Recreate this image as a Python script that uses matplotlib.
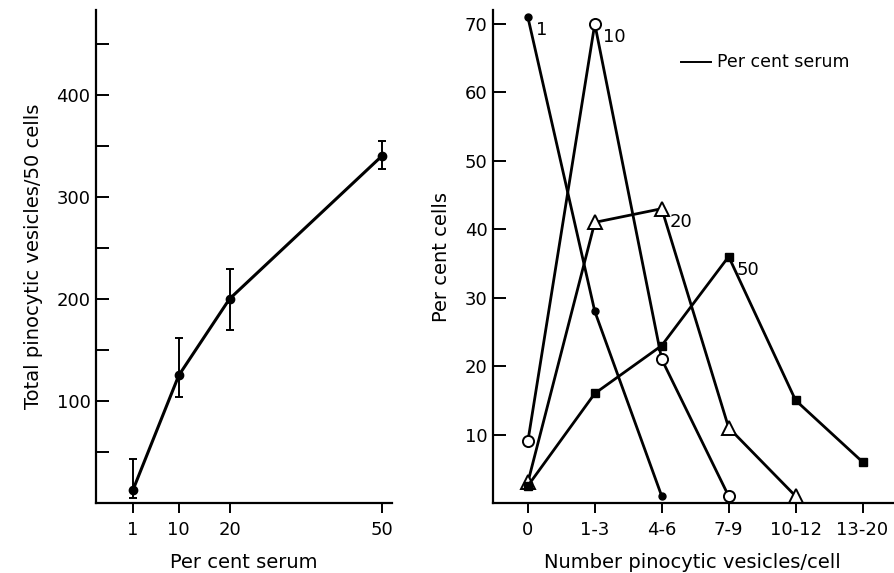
import numpy as np
import matplotlib
matplotlib.use("Agg")
import matplotlib.pyplot as plt

# left panel: total vesicles vs serum
serum = [1, 10, 20, 50]
total_vesicles = [13, 125, 200, 340]
err_low = [5, 104, 170, 327]
err_high = [43, 162, 229, 355]

# right panel: distribution per serum level
bins = ["0", "1-3", "4-6", "7-9", "10-12", "13-20"]
pct_1 = [71, 28, 1]
pct_10 = [9, 70, 21, 1]
pct_20 = [3, 41, 43, 11, 1]
pct_50 = [2.5, 16, 23, 36, 15, 6]
series_labels = ["1", "10", "20", "50"]

plt.rcParams["font.family"] = "DejaVu Sans"
plt.rcParams["font.size"] = 13


def style_axes(ax):
    for side in ("top", "right"):
        ax.spines[side].set_visible(False)
    for side in ("left", "bottom"):
        ax.spines[side].set_linewidth(1.6)
    ax.tick_params(axis="y", direction="in", length=9, width=1.4, pad=4)
    ax.tick_params(axis="x", direction="out", length=7, width=1.4, pad=6)


def main():
    fig = plt.figure(figsize=(8.94, 5.73), dpi=100)

    ax1 = fig.add_axes([0.1074, 0.1222, 0.331, 0.860])
    yerr = [np.array(total_vesicles) - np.array(err_low),
            np.array(err_high) - np.array(total_vesicles)]
    ax1.errorbar(serum, total_vesicles, yerr=yerr, color="black", lw=2.2,
                 marker="o", ms=6, elinewidth=1.4, capsize=3, capthick=1.4)
    ax1.set_xlim(-6.3, 52)
    ax1.set_ylim(0, 483)
    ax1.set_xticks(serum)
    ax1.set_yticks([100, 200, 300, 400])
    ax1.set_yticks([50, 150, 250, 350, 450], minor=True)
    style_axes(ax1)
    ax1.tick_params(axis="y", which="minor", direction="in", length=9, width=1.4)
    ax1.set_xlabel("Per cent serum", fontsize=14, labelpad=10)
    ax1.set_ylabel("Total pinocytic vesicles/50 cells", fontsize=14, labelpad=10)

    ax2 = fig.add_axes([0.5515, 0.1222, 0.447, 0.860])
    x = np.arange(len(bins))
    kw = dict(color="black", lw=2.0, clip_on=False)
    ax2.plot(x[:len(pct_1)], pct_1, marker="o", ms=5, **kw)
    ax2.plot(x[:len(pct_10)], pct_10, marker="o", ms=8, mfc="white",
             mew=1.4, **kw)
    ax2.plot(x[:len(pct_20)], pct_20, marker="^", ms=10, mfc="white",
             mew=1.4, **kw)
    ax2.plot(x[:len(pct_50)], pct_50, marker="s", ms=6, **kw)

    peaks = [(0, pct_1[0]), (1, pct_10[1]), (2, pct_20[2]), (3, pct_50[3])]
    for label, (px, py) in zip(series_labels, peaks):
        ax2.annotate(label, xy=(px, py), xytext=(6, -13),
                     textcoords="offset points", fontsize=13)

    ax2.plot([0.47, 0.545], [0.894, 0.894], transform=ax2.transAxes,
             color="black", lw=1.4)
    ax2.text(0.56, 0.894, "Per cent serum", transform=ax2.transAxes,
             va="center", fontsize=12.5)

    ax2.set_xlim(-0.52, 5.45)
    ax2.set_ylim(0, 72)
    ax2.set_xticks(x)
    ax2.set_xticklabels(bins)
    ax2.set_yticks([10, 20, 30, 40, 50, 60, 70])
    style_axes(ax2)
    ax2.set_xlabel("Number pinocytic vesicles/cell", fontsize=14, labelpad=10)
    ax2.set_ylabel("Per cent cells", fontsize=14, labelpad=10)

    fig.savefig("out.png", dpi=100)


if __name__ == "__main__":
    main()
